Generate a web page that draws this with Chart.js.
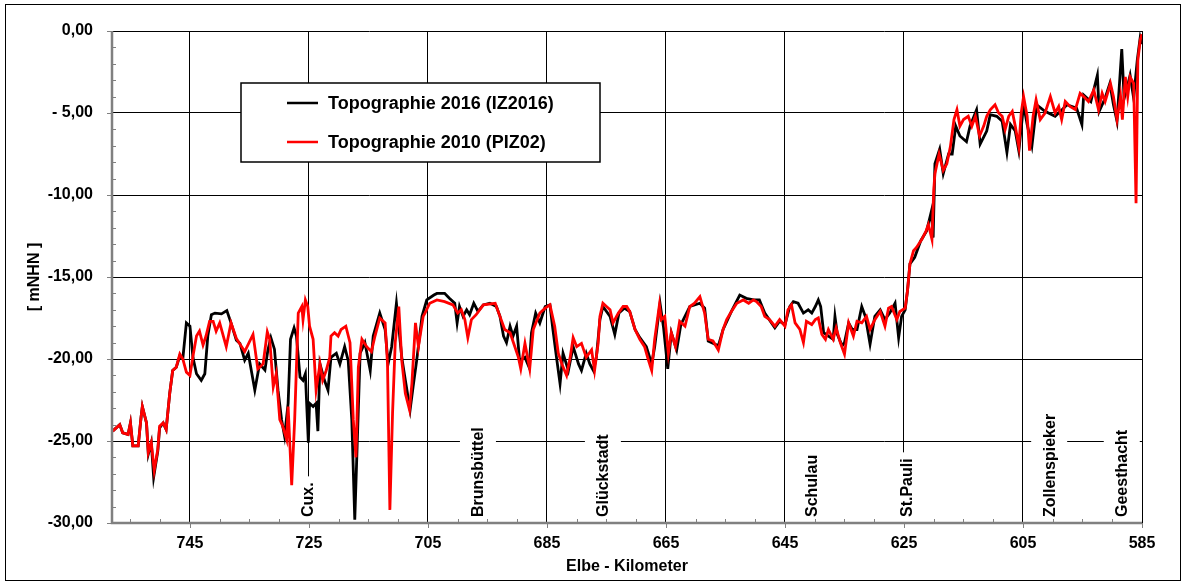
<!DOCTYPE html>
<html>
<head>
<meta charset="utf-8">
<script src="https://cdn.jsdelivr.net/npm/chart.js@4"></script>
<style>
  html, body { margin: 0; padding: 0; background: #fff; }
  canvas { display: block; }
</style>
</head>
<body>
<canvas id="profilChart" width="1187" height="583"></canvas>
<script>
// Elbe-Kilometer und Sohlhöhe [mNHN]
var seriesNames = ['Topographie 2016 (IZ2016)', 'Topographie 2010 (PIZ02)'];

var km2016 = [758.0, 756.8, 756.3, 755.4, 755.0, 754.6, 753.7, 753.2, 753.0, 752.3, 752.0, 751.5, 751.1, 750.4, 750.1, 749.5, 749.0, 748.4, 747.9, 747.3,
  746.7, 746.2, 745.6, 745.0, 744.5, 743.9, 743.1, 742.5, 742.0, 741.4, 740.8, 739.7, 738.8, 738.1, 737.2, 736.6, 735.8, 735.2, 734.1, 733.3,
  732.4, 731.9, 731.4, 730.8, 730.2, 729.6, 729.1, 728.5, 728.1, 727.5, 727.1, 726.5, 726.0, 725.6, 725.1, 724.9, 724.3, 723.8, 723.5, 723.15,
  722.4, 721.8, 721.3, 720.4, 719.8, 719.0, 718.4, 717.8, 717.3, 716.9, 716.4, 715.6, 714.7, 714.2, 713.1, 712.2, 711.7, 711.1, 710.3, 709.4,
  708.8, 708.0, 707.5, 706.9, 706.0, 705.2, 704.0, 703.5, 702.2, 701.4, 700.5, 700.1, 699.7, 699.1, 698.5, 698.0, 697.3, 696.6, 695.7, 694.6,
  693.5, 692.9, 692.3, 691.8, 691.2, 690.7, 690.1, 689.6, 688.7, 688.0, 687.6, 686.9, 686.2, 685.3, 684.5, 684.0, 683.4, 682.8, 682.3, 681.4,
  680.6, 679.7, 679.2, 678.4, 677.8, 677.2, 676.7, 676.1, 675.6, 674.4, 673.6, 672.9, 672.0, 671.1, 670.2, 669.4, 668.3, 667.4, 666.9, 666.0,
  665.4, 664.7, 664.1, 663.2, 662.5, 661.0, 660.2, 659.3, 658.5, 657.9, 656.2, 655.4, 654.0, 652.6, 651.5, 650.3, 649.3, 648.4, 646.7, 645.9,
  645.0, 644.2, 643.6, 642.8, 641.9, 641.1, 640.5, 639.9, 639.4, 639.0, 638.5, 637.7, 636.9, 636.6, 636.2, 635.4, 635.0, 634.3, 633.7, 632.9,
  632.1, 631.5, 630.7, 629.9, 629.0, 628.2, 627.4, 626.5, 625.9, 625.4, 624.8, 624.4, 624.0, 623.2, 622.2, 621.2, 620.4, 620.1, 619.8, 619.0,
  618.4, 617.5, 616.9, 616.3, 615.6, 614.5, 613.9, 612.8, 612.2, 611.1, 610.5, 609.4, 608.5, 607.7, 607.1, 606.3, 605.7, 604.9, 604.3, 603.5,
  602.7, 601.3, 599.6, 598.7, 597.6, 596.0, 595.1, 594.8, 593.6, 592.5, 592.2, 591.2, 590.4, 589.8, 589.2, 588.4, 588.0, 587.4, 587.0, 586.4,
  585.8, 585.3, 585.0];
var depth2016 = [-24.4, -24.0, -24.5, -24.6, -23.9, -25.3, -25.3, -23.5, -22.9, -23.9, -25.8, -25.1, -27.2, -25.6, -24.2, -23.9, -24.3, -22.1, -20.7, -20.5,
  -19.8, -20.0, -17.8, -18.0, -19.9, -20.9, -21.3, -20.9, -18.6, -17.3, -17.2, -17.25, -17.05, -17.8, -18.85, -19.05, -20.07, -19.65, -21.9, -20.3,
  -20.67, -19.45, -18.7, -19.4, -21.9, -23.7, -24.7, -22.7, -18.8, -18.1, -18.6, -21.1, -21.3, -20.9, -25.1, -22.7, -22.9, -22.7, -24.4, -20.3,
  -21.3, -21.9, -19.9, -19.65, -20.3, -19.25, -20.1, -23.7, -29.8, -25.3, -19.65, -19.0, -20.7, -18.6, -17.2, -18.2, -20.3, -19.25, -16.6, -19.9,
  -21.3, -23.1, -21.7, -20.1, -17.4, -16.4, -16.1, -16.0, -16.0, -16.3, -16.6, -17.8, -16.8, -17.4, -17.0, -17.3, -16.6, -17.1, -16.7, -16.6,
  -16.8, -17.4, -18.6, -19.0, -18.0, -18.6, -18.0, -20.1, -19.9, -20.5, -18.4, -17.2, -17.8, -16.8, -16.7, -18.2, -19.9, -21.5, -19.65, -20.7,
  -19.25, -20.3, -20.7, -19.65, -20.3, -20.7, -19.9, -17.6, -16.8, -17.4, -18.5, -17.2, -16.9, -17.1, -18.2, -18.7, -19.25, -20.3, -19.25, -16.6,
  -18.1, -20.6, -18.4, -19.45, -17.9, -16.8, -16.7, -16.6, -16.9, -18.9, -19.2, -18.2, -17.1, -16.1, -16.3, -16.4, -16.4, -17.2, -18.1, -17.7,
  -17.9, -16.8, -16.5, -16.6, -17.2, -17.0, -17.2, -16.8, -16.4, -16.8, -18.4, -18.6, -18.8, -17.4, -18.5, -19.2, -19.0, -17.8, -18.2, -18.2,
  -16.8, -17.4, -19.1, -17.4, -17.0, -17.6, -17.2, -16.6, -18.7, -17.4, -17.0, -15.8, -14.2, -13.8, -12.8, -12.2, -11.0, -12.6, -8.1, -7.2,
  -8.7, -7.5, -7.5, -5.8, -6.4, -6.75, -5.8, -4.8, -6.9, -6.1, -5.1, -5.2, -5.5, -7.4, -5.7, -6.1, -7.3, -4.5, -5.7, -7.0,
  -4.5, -4.9, -5.2, -4.9, -4.5, -4.7, -5.7, -3.9, -4.3, -2.7, -4.9, -4.1, -3.2, -4.5, -5.5, -1.1, -4.1, -3.3, -2.7, -4.1,
  -1.8, -0.4, -0.8];

var km2010 = [758.0, 756.8, 756.3, 755.4, 755.0, 754.6, 753.7, 753.2, 753.0, 752.3, 752.0, 751.5, 751.0, 750.4, 750.1, 749.5, 749.0, 748.4, 747.9, 747.3,
  746.7, 746.2, 745.6, 745.0, 744.5, 743.9, 743.4, 742.8, 742.3, 741.7, 741.1, 740.6, 740.0, 738.9, 738.1, 737.2, 735.8, 734.4, 733.6, 732.7,
  732.0, 731.6, 731.0, 730.5, 729.9, 729.4, 728.75, 728.5, 727.9, 727.4, 726.8, 726.2, 726.0, 725.6, 725.2, 724.9, 724.3, 723.8, 723.15, 722.7,
  722.1, 721.5, 721.3, 720.7, 720.1, 719.6, 718.8, 718.1, 717.55, 717.1, 716.7, 716.1, 715.3, 714.5, 713.9, 713.1, 712.2, 711.8, 711.4, 710.95,
  710.5, 709.9, 709.4, 708.8, 708.1, 707.7, 707.1, 706.6, 705.8, 705.5, 704.7, 703.5, 702.2, 700.8, 700.0, 699.4, 698.8, 698.3, 697.7, 696.9,
  695.7, 693.7, 692.9, 692.1, 691.2, 690.4, 689.8, 689.4, 688.7, 687.9, 687.3, 686.2, 685.3, 684.5, 683.7, 683.1, 682.5, 681.7, 681.1, 680.6,
  680.0, 679.2, 678.4, 677.5, 677.0, 676.4, 676.1, 675.6, 675.0, 674.4, 673.9, 673.0, 672.2, 671.6, 671.1, 670.2, 669.4, 668.6, 668.0, 667.4,
  666.9, 666.1, 665.8, 665.2, 664.6, 664.1, 663.4, 662.7, 661.8, 661.0, 660.2, 659.3, 658.5, 657.9, 657.1, 656.2, 655.4, 654.8, 654.0, 653.1,
  652.0, 651.1, 650.3, 649.8, 649.0, 648.4, 647.6, 646.7, 645.9, 645.0, 644.5, 643.9, 643.3, 642.5, 641.9, 641.4, 640.5, 639.9, 639.4, 638.8,
  638.2, 637.7, 636.9, 636.4, 635.7, 635.0, 634.3, 633.5, 632.9, 632.1, 631.3, 630.7, 629.9, 629.0, 628.2, 627.6, 627.1, 626.2, 625.7, 624.8,
  624.4, 624.0, 623.4, 622.9, 622.0, 621.3, 620.9, 620.3, 620.0, 619.8, 619.1, 618.4, 617.8, 617.2, 616.6, 616.1, 615.6, 615.0, 614.2, 613.6,
  613.0, 612.3, 611.6, 611.1, 610.5, 609.7, 609.1, 608.5, 608.0, 607.4, 606.8, 606.3, 605.7, 605.3, 604.9, 604.3, 603.9, 603.3, 602.8, 602.1,
  601.3, 600.4, 599.6, 599.0, 598.5, 597.9, 597.1, 596.2, 595.4, 594.8, 594.0, 593.1, 592.3, 591.7, 591.2, 590.3, 589.8, 589.2, 588.6, 588.3,
  587.8, 587.4, 587.0, 586.4, 586.0, 585.7, 585.3, 585.0];
var depth2010 = [-24.4, -24.0, -24.5, -24.6, -23.9, -25.3, -25.3, -23.5, -22.9, -23.9, -25.7, -25.1, -26.8, -25.5, -24.1, -23.9, -24.3, -22.1, -20.7, -20.5,
  -19.7, -20.0, -20.8, -21.0, -19.85, -18.6, -18.3, -19.15, -18.6, -17.7, -17.7, -18.3, -17.8, -19.25, -17.8, -18.75, -19.55, -18.5, -20.6, -20.3,
  -18.35, -18.8, -21.7, -20.9, -23.7, -24.1, -24.9, -22.9, -27.7, -23.7, -17.2, -16.8, -17.6, -16.4, -16.8, -18.0, -18.8, -21.9, -20.3, -21.3,
  -20.7, -19.9, -18.6, -18.4, -18.6, -18.2, -18.0, -19.0, -23.7, -26.0, -20.5, -18.8, -19.25, -19.55, -18.6, -17.5, -17.8, -20.3, -29.2, -23.3,
  -19.0, -16.8, -20.1, -22.1, -23.1, -21.5, -17.8, -19.25, -17.4, -17.2, -16.6, -16.4, -16.5, -16.7, -17.2, -17.0, -17.6, -18.7, -17.6, -17.3,
  -16.7, -16.6, -17.4, -18.2, -18.4, -19.25, -19.9, -20.6, -19.05, -20.6, -18.2, -17.2, -16.9, -16.7, -18.0, -19.65, -20.3, -21.0, -19.9, -18.7,
  -19.25, -19.05, -19.9, -19.45, -20.7, -19.05, -17.4, -16.6, -16.8, -17.0, -17.8, -17.2, -16.8, -16.8, -17.1, -18.2, -18.8, -19.25, -20.0, -20.7,
  -18.8, -16.7, -17.6, -17.4, -19.65, -18.4, -19.25, -17.7, -18.0, -16.8, -16.6, -16.2, -17.2, -18.8, -18.9, -19.45, -18.2, -17.6, -17.1, -16.6,
  -16.4, -16.6, -16.4, -16.5, -16.8, -17.4, -17.6, -18.0, -17.6, -18.0, -17.0, -16.7, -17.8, -18.2, -19.0, -17.7, -17.9, -17.6, -17.5, -18.5,
  -18.8, -18.2, -18.8, -18.1, -19.0, -19.7, -17.8, -18.6, -17.7, -17.8, -17.4, -18.2, -17.6, -17.1, -18.0, -16.9, -16.8, -17.6, -17.1, -16.9,
  -15.8, -14.2, -13.4, -13.2, -12.7, -12.2, -11.8, -12.7, -9.7, -8.7, -7.5, -8.5, -8.1, -7.05, -5.4, -4.8, -5.8, -5.4, -5.2, -5.8,
  -5.2, -6.4, -5.8, -5.2, -4.8, -4.5, -5.0, -5.2, -6.0, -5.2, -4.9, -5.8, -7.05, -5.0, -4.0, -5.2, -7.3, -5.2, -4.2, -5.4,
  -5.0, -4.0, -5.0, -4.6, -5.4, -4.3, -4.6, -4.8, -3.8, -4.0, -4.3, -3.6, -4.8, -3.8, -4.3, -3.2, -4.0, -5.4, -4.0, -5.4,
  -2.8, -4.0, -2.8, -3.2, -10.5, -1.8, -0.55, -0.2];

var xTickLabels = [745, 725, 705, 685, 665, 645, 625, 605, 585];
var yTickValues = [-30, -25, -20, -15, -10, -5, 0];
var yTickLabels = ['-30,00', '-25,00', '-20,00', '-15,00', '-10,00', '- 5,00', '0,00'];

// Ortsangaben entlang der Elbe
var placeNames = ['Cux.', 'Brunsbüttel', 'Glückstadt', 'Schulau', 'St.Pauli', 'Zollenspieker', 'Geesthacht'];
var placeKm = [725.2, 696.6, 675.6, 640.5, 624.6, 600.6, 588.4];

var FONT = '"Liberation Sans", Arial, sans-serif';

function toPoints(xs, ys) {
    return xs.map(function (x, i) { return { x: x, y: ys[i] }; });
}

var extras = {
    id: 'extras',
    beforeDraw: function (chart) {
        var c = chart.ctx;
        c.save();
        c.fillStyle = '#fff';
        c.fillRect(0, 0, chart.width, chart.height);
        c.restore();
    },
    beforeDatasetsDraw: function (chart) {
        // Ortsnamen mit weissem Hintergrund
        var c = chart.ctx, xs = chart.scales.x, a = chart.chartArea;
        c.save();
        c.font = 'bold 16px ' + FONT;
        c.textAlign = 'left';
        c.textBaseline = 'middle';
        placeNames.forEach(function (name, i) {
            var px = xs.getPixelForValue(placeKm[i]);
            var w = c.measureText(name).width;
            c.save();
            c.translate(px, a.bottom - 6);
            c.rotate(-Math.PI / 2);
            c.fillStyle = '#fff';
            c.fillRect(-6, -18, w + 12, 36);
            c.fillStyle = '#000';
            c.fillText(name, 0, 1);
            c.restore();
        });
        c.restore();
    },
    afterDatasetsDraw: function (chart) {
        var c = chart.ctx, a = chart.chartArea, xs = chart.scales.x, ys = chart.scales.y;
        c.save();
        // Achsen
        c.strokeStyle = '#808080';
        c.lineWidth = 2.5;
        c.beginPath();
        c.moveTo(a.left, a.top);
        c.lineTo(a.left, a.bottom);
        c.lineTo(a.right, a.bottom);
        c.stroke();
        c.lineWidth = 1;
        c.beginPath();
        for (var v = -30; v <= 0; v++) {
            var py = Math.round(ys.getPixelForValue(v)) + 0.5;
            if (v % 5 === 0) { c.moveTo(a.left - 5, py); c.lineTo(a.left, py); }
            else { c.moveTo(a.left, py); c.lineTo(a.left + 4, py); }
        }
        for (var k = 585; k <= 755; k += 5) {
            var px = Math.round(xs.getPixelForValue(k)) + 0.5;
            if (xTickLabels.indexOf(k) >= 0) { c.moveTo(px, a.bottom); c.lineTo(px, a.bottom + 5); }
            else { c.moveTo(px, a.bottom); c.lineTo(px, a.bottom - 4); }
        }
        c.stroke();

        // Legende
        var lx = 241, ly = 83, lw = 359, lh = 79;
        c.fillStyle = '#fff';
        c.fillRect(lx, ly, lw, lh);
        c.strokeStyle = '#000';
        c.lineWidth = 1.5;
        c.strokeRect(lx, ly, lw, lh);
        c.font = 'bold 18px ' + FONT;
        c.textBaseline = 'middle';
        c.textAlign = 'left';
        chart.data.datasets.forEach(function (ds, i) {
            var cy = 103 + i * 39;
            c.strokeStyle = ds.borderColor;
            c.lineWidth = 2.5;
            c.beginPath();
            c.moveTo(287, cy);
            c.lineTo(318, cy);
            c.stroke();
            c.fillStyle = '#000';
            c.fillText(ds.label, 328, cy + 1);
        });
        c.restore();
    },
    afterDraw: function (chart) {
        var c = chart.ctx, a = chart.chartArea;
        c.save();
        c.fillStyle = '#000';
        c.font = 'bold 16px ' + FONT;
        c.textAlign = 'center';
        c.textBaseline = 'middle';
        c.fillText('Elbe - Kilometer', (a.left + a.right) / 2, 567);
        c.translate(35, (a.top + a.bottom) / 2);
        c.rotate(-Math.PI / 2);
        c.fillText('[ mNHN ]', 0, 0);
        c.restore();
        // Rahmen
        c.save();
        c.strokeStyle = '#000';
        c.lineWidth = 1;
        c.strokeRect(5.5, 4.5, 1175, 576);
        c.restore();
    }
};

var ctx = document.getElementById('profilChart').getContext('2d');
var profilChart = new Chart(ctx, {
    type: 'line',
    data: {
        datasets: [{
            label: seriesNames[0],
            data: toPoints(km2016, depth2016),
            borderColor: '#000000',
            borderWidth: 2.8,
            pointRadius: 0,
            order: 1
        }, {
            label: seriesNames[1],
            data: toPoints(km2010, depth2010),
            borderColor: '#ff0000',
            borderWidth: 2.8,
            pointRadius: 0,
            order: 0
        }]
    },
    options: {
        responsive: false,
        animation: false,
        devicePixelRatio: 1,
        layout: { padding: { top: 31, right: 45, left: 0, bottom: 0 } },
        plugins: {
            legend: { display: false },
            tooltip: { enabled: false }
        },
        scales: {
            x: {
                type: 'linear',
                reverse: true,
                min: 585,
                max: 758.1,
                afterFit: function (s) { s.height = 60; },
                afterBuildTicks: function (s) {
                    s.ticks = xTickLabels.map(function (v) { return { value: v }; });
                },
                border: { display: false },
                grid: { color: '#000', lineWidth: 1, drawTicks: false },
                ticks: {
                    color: '#000',
                    font: { family: FONT, size: 16, weight: 'bold' },
                    padding: 11,
                    maxRotation: 0,
                    autoSkip: false,
                    callback: function (v) { return String(v); }
                }
            },
            y: {
                min: -30,
                max: 0,
                afterFit: function (s) { s.width = 112; },
                afterBuildTicks: function (s) {
                    s.ticks = yTickValues.map(function (v) { return { value: v }; });
                },
                border: { display: false },
                grid: { color: '#000', lineWidth: 1, drawTicks: false },
                ticks: {
                    color: '#000',
                    font: { family: FONT, size: 16, weight: 'bold' },
                    padding: 19,
                    callback: function (v) { return yTickLabels[yTickValues.indexOf(v)]; }
                }
            }
        }
    },
    plugins: [extras]
});
</script>
</body>
</html>
